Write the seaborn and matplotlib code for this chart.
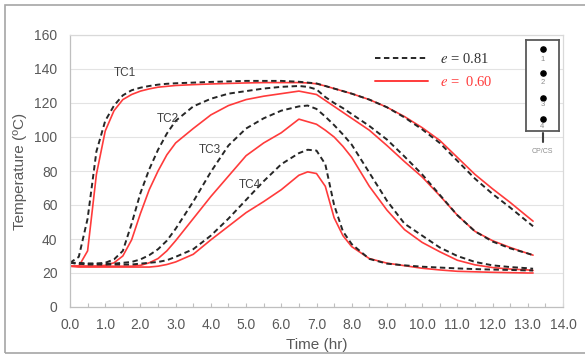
import pandas as pd
import matplotlib
matplotlib.use('Agg')
import matplotlib.pyplot as plt
import seaborn as sns
from matplotlib.lines import Line2D
from matplotlib.patches import Rectangle
from matplotlib.ticker import MultipleLocator, FormatStrFormatter

# readings taken off the chart (time in hours, temperature in degC)
time_hr = [0, 0.25, 0.5, 0.75, 1.0, 1.25, 1.5, 1.75, 2.0, 2.25, 2.5, 2.75, 3.0, 3.5,
           4.0, 4.5, 5.0, 5.5, 6.0, 6.5, 6.75, 7.0, 7.25, 7.5, 7.75, 8.0, 8.5, 9.0,
           9.5, 10.0, 10.5, 11.0, 11.5, 12.0, 12.5, 13.0, 13.15]

# e = 0.81 (dashed)
tc1_e081 = [26, 29.5, 52, 91.5, 109.5, 118.5, 124.5, 127.5, 129, 130, 130.8, 131.3, 131.6, 132,
            132.4, 132.7, 133, 133, 133, 132.5, 132, 131.5, 130, 128.5, 127, 125.5, 122, 117.5,
            111.5, 104.5, 96.5, 86, 75.5, 66.5, 58.5, 50, 47.5]
tc2_e081 = [26, 25.5, 25.5, 25.5, 26, 28, 33, 49, 67, 81, 92.5, 102, 109.5, 118,
            122.5, 125.5, 127, 128.5, 129.5, 130, 129.5, 128, 123.5, 120, 117, 113.5, 106.5, 98.5,
            88.5, 78, 66, 54, 44.5, 38.5, 34.5, 31.5, 30.5]
tc3_e081 = [26, 26, 25.5, 25.5, 25.5, 25.5, 26, 26.5, 28, 30.5, 34, 39, 46, 62,
            79.5, 95, 105, 111, 115.5, 118, 118.5, 116.5, 112, 107, 101.5, 95.5, 79, 62.5,
            49, 42, 35, 30, 26.5, 24.5, 23.5, 22.8, 22.5]
tc4_e081 = [26, 25.5, 25, 25, 25, 25, 25, 25, 25.5, 26, 26.5, 27.5, 29.5, 34,
            42, 52, 63, 74, 84, 90.5, 92.5, 92, 84, 60, 44.5, 37, 28.3, 25.5,
            24.5, 23.7, 23.2, 22.7, 22.3, 22, 21.8, 21.5, 21.5]

# e = 0.60 (solid red)
tc1_e060 = [24, 24, 33, 78, 103.5, 115.5, 122, 125, 127, 128.3, 129.3, 129.8, 130.3, 130.8,
            131.2, 131.5, 131.8, 132, 132, 132, 131.8, 131.3, 130, 128.5, 127, 125.5, 122, 117.5,
            112, 105.5, 98, 88, 78, 69.5, 61.5, 53, 50.5]
tc2_e060 = [24, 24, 24, 24, 24.5, 26, 30, 39.5, 55, 69, 80, 89.5, 96.5, 105,
            113, 118.5, 122, 124, 125.5, 127, 126, 125, 121.5, 118, 114.5, 111, 104, 95,
            85.5, 76.5, 65.5, 54, 44.5, 39, 35, 31.5, 30.5]
tc3_e060 = [24, 24, 24, 24, 24, 24, 24, 24, 24.5, 26, 28.5, 33, 39, 52,
            65, 77, 89, 96.5, 102.5, 110.5, 109, 107.5, 104, 100, 94.5, 88, 71, 57,
            45.5, 38, 32.5, 27.5, 24.8, 23.2, 22.3, 21.8, 21.5]
tc4_e060 = [24, 23.5, 23.5, 23.5, 23.5, 23.5, 23.5, 23.5, 23.5, 23.5, 24, 25, 26.5, 31,
            39.5, 47.5, 55.5, 62, 69, 77.5, 79.5, 78.5, 71, 52.5, 42, 35.5, 28.5, 25.8,
            24.3, 22.8, 21.8, 21, 20.7, 20.4, 20.2, 20, 20]

tc_names = ['TC1', 'TC2', 'TC3', 'TC4']
series_081 = [tc1_e081, tc2_e081, tc3_e081, tc4_e081]
series_060 = [tc1_e060, tc2_e060, tc3_e060, tc4_e060]

frames = []
for name, vals in zip(tc_names, series_081):
    frames.append(pd.DataFrame({'time': time_hr, 'temp': vals, 'tc': name, 'e': '0.81'}))
for name, vals in zip(tc_names, series_060):
    frames.append(pd.DataFrame({'time': time_hr, 'temp': vals, 'tc': name, 'e': '0.60'}))
df = pd.concat(frames, ignore_index=True)

sns.set_style('white')
plt.rcParams['font.family'] = ['Liberation Sans', 'DejaVu Sans']
plt.rcParams['mathtext.fontset'] = 'stix'

red = '#ff3b3b'
dark = '#262626'
dash = (0, (2.8, 1.8))

fig = plt.figure(figsize=(5.85, 3.56), dpi=100)
ax = fig.add_axes([70 / 585, 1 - 307 / 356, 493 / 585, 272 / 356])

sns.lineplot(data=df[df['e'] == '0.60'], x='time', y='temp', units='tc', estimator=None,
             sort=False, color=red, lw=1.2, ax=ax)
sns.lineplot(data=df[df['e'] == '0.81'], x='time', y='temp', units='tc', estimator=None,
             sort=False, color=dark, lw=1.4, linestyle=dash, ax=ax)

ax.set_xlim(0, 14)
ax.set_ylim(0, 160)
ax.xaxis.set_major_locator(MultipleLocator(1))
ax.xaxis.set_minor_locator(MultipleLocator(0.5))
ax.xaxis.set_major_formatter(FormatStrFormatter('%.1f'))
ax.yaxis.set_major_locator(MultipleLocator(20))
ax.tick_params(axis='x', which='both', direction='in', length=3, width=0.8,
               color='#bfbfbf', labelsize=10, labelcolor='#595959', pad=8, bottom=True)
ax.tick_params(axis='y', length=0, labelsize=10, labelcolor='#595959', pad=9)
ax.yaxis.grid(True, color='#e3e3e3', lw=0.8)
ax.set_axisbelow(True)
for side in ['left', 'bottom']:
    ax.spines[side].set_color('#bfbfbf')
for side in ['top', 'right']:
    ax.spines[side].set_color('#d9d9d9')
for s in ax.spines.values():
    s.set_linewidth(0.9)

ax.set_xlabel('Time (hr)', fontsize=11, color='#595959', labelpad=4)
ax.set_ylabel('Temperature (ºC)', fontsize=11, color='#595959', labelpad=5)

for name, (tx, ty) in zip(tc_names, [(1.57, 137.5), (2.77, 110.5), (3.97, 92.5), (5.11, 72)]):
    ax.text(tx, ty, name, fontsize=8.5, color='#404040', ha='center', va='center')

handles = [Line2D([], [], color=dark, lw=1.4, linestyle=dash),
           Line2D([], [], color=red, lw=1.4)]
ax.legend(handles, [r'$e$ = 0.81', r'$e$ =  0.60'], loc='upper left',
          bbox_to_anchor=(0.593, 0.985), frameon=False, handlelength=3.6,
          handletextpad=0.8, labelspacing=0.6,
          prop={'family': 'Liberation Serif', 'size': 10.5},
          labelcolor=['#333333', red])

# small thermocouple sketch on the right
ins = fig.add_axes([526 / 585, 1 - 131 / 356, 33 / 585, 91 / 356])
ins.set_xlim(0, 1)
ins.set_ylim(0, 1)
ins.set_xticks([])
ins.set_yticks([])
for s in ins.spines.values():
    s.set_color('#595959')
    s.set_linewidth(1.3)
dot_y = [0.90, 0.64, 0.367, 0.13]
num_y = [0.79, 0.535, 0.286, 0.047]
ins.scatter([0.5] * 4, dot_y, s=14, color='black', zorder=3)
for i, y in enumerate(num_y):
    ins.text(0.5, y, str(i + 1), fontsize=5.5, color='#8c8c8c', ha='center', va='center')
ins.plot([0.5, 0.5], [-0.02, -0.12], color='#404040', lw=1.5, clip_on=False)
ins.text(0.5, -0.22, 'CP/CS', fontsize=5, color='#8c8c8c', ha='center', va='center')

fig.patches.append(Rectangle((5 / 585, 3 / 356), 1.0, 348 / 356, transform=fig.transFigure,
                             fill=False, ec='#a6a6a6', lw=1.2))

fig.savefig('out.png', dpi=100)
